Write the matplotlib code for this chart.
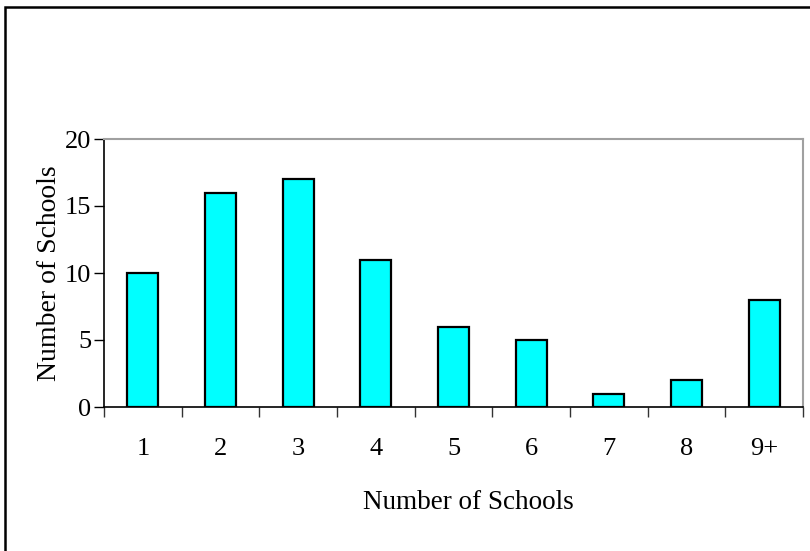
import matplotlib
matplotlib.use("Agg")
import matplotlib.pyplot as plt
from matplotlib.patches import Rectangle
import numpy as np

categories = ["1", "2", "3", "4", "5", "6", "7", "8", "9+"]
counts = [10, 16, 17, 11, 6, 5, 1, 2, 8]
y_ticks = [0, 5, 10, 15, 20]

plt.rcParams["font.family"] = ["Liberation Serif", "DejaVu Serif"]

W, H = 810, 551
fig = plt.figure(figsize=(W / 100, H / 100), dpi=100)

# axes box in pixel coordinates
left, right, top, bottom = 104, 803, 139, 407
ax = fig.add_axes([left / W, 1 - bottom / H, (right - left) / W, (bottom - top) / H])

x = np.arange(len(categories))
ax.bar(x, counts, width=0.4, color="#00FFFF", edgecolor="black", linewidth=1.6, zorder=3)

ax.set_xlim(-0.5, len(categories) - 0.5)
ax.set_ylim(0, 20)
ax.set_yticks(y_ticks)
ax.set_yticklabels([str(v) for v in y_ticks], fontsize=19)

ax.set_xticks(x)
ax.set_xticklabels(categories, fontsize=19)
ax.tick_params(axis="x", which="major", length=0, pad=22)
ax.set_xticks(np.arange(-0.5, len(categories), 1.0), minor=True)
ax.tick_params(axis="x", which="minor", length=7, width=1, color="#333333", direction="out")
ax.tick_params(axis="y", length=7, width=1, direction="out", pad=2)

for side in ("top", "right"):
    ax.spines[side].set_color("#a0a0a0")
    ax.spines[side].set_linewidth(1.5)
for side in ("left", "bottom"):
    ax.spines[side].set_color("black")
    ax.spines[side].set_linewidth(1.2)

ax.set_ylabel("Number of Schools", fontsize=20, labelpad=2)
ax.set_xlabel("Number of Schools", fontsize=19.5)
ax.xaxis.set_label_coords(0.5215, -0.355)
ax.xaxis.label.set_verticalalignment("center")

# chart-area frame (top and left edges visible)
fig.patches.append(Rectangle((5 / W, -0.1), 1.2, 1 - 7 / H + 0.1, transform=fig.transFigure,
                             fill=False, edgecolor="black", linewidth=1.8))

fig.savefig("out.png", dpi=100)
